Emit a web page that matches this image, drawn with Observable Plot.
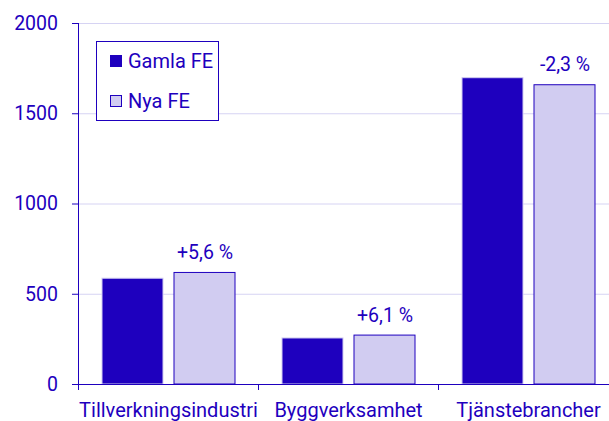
<!DOCTYPE html>
<html>
<head>
<meta charset="utf-8">
<script src="https://cdn.jsdelivr.net/npm/d3@7"></script>
<script src="https://cdn.jsdelivr.net/npm/@observablehq/plot@0.6"></script>
<style>
  html, body { margin: 0; padding: 0; background: white; }
  #wrap { position: relative; width: 609px; height: 421px; font-family: Roboto, sans-serif; color: #1E00BE; }
  #legend { position: absolute; left: 96px; top: 41px; width: 123px; height: 80px; box-sizing: border-box;
            border: 1px solid #1E00BE; background: white; }
  .item { position: absolute; left: 13px; height: 20px; display: flex; align-items: center; font-size: 20px; }
  .sw { width: 12px; height: 12px; box-sizing: border-box; border: 1px solid #1E00BE; margin-right: 6px; }
</style>
</head>
<body>
<div id="wrap"></div>
<script>
const categories = ["Tillverkningsindustri", "Byggverksamhet", "Tjänstebrancher"];
const seriesNames = ["Gamla FE", "Nya FE"];
const gamlaValues = [586, 255, 1697];
const nyaValues = [618, 271, 1658];
const changeLabels = ["+5,6 %", "+6,1 %", "-2,3 %"];
const yTicks = [0, 500, 1000, 1500, 2000];

const DARK = "#1E00BE";
const LIGHT = "#D1CCF1";
const GRID = "#D6D3F3";

const data = categories.flatMap((c, i) => [
  {category: c, series: seriesNames[0], value: gamlaValues[i]},
  {category: c, series: seriesNames[1], value: nyaValues[i], label: changeLabels[i]}
]);
const labelData = data.filter(d => d.series === seriesNames[1]);

// Category-boundary ticks below the x axis, plus the y-axis line in the first panel
const edgeTicks = Plot.ruleY(categories, {
  fx: d => d,
  y: () => 0,
  render: (index, scales, values, dims) => {
    const g = d3.create("svg:g").attr("stroke", DARK).attr("stroke-width", 1).attr("fill", "none");
    const x0 = dims.marginLeft + 0.5;
    const y0 = scales.y(0);
    const isFirst = Array.from(index).some(i => categories[i] === categories[0]);
    g.append("line")
      .attr("x1", x0).attr("x2", x0)
      .attr("y1", isFirst ? scales.y(yTicks[yTicks.length - 1]) : y0)
      .attr("y2", y0 + 6);
    return g.node();
  }
});

const chart = Plot.plot({
  width: 609,
  height: 421,
  marginLeft: 78,
  marginRight: -9,
  marginTop: 23,
  marginBottom: 37,
  style: {fontFamily: "Roboto, sans-serif", fontSize: "20px", color: DARK, background: "white", overflow: "hidden"},
  fx: {domain: categories, padding: 0, label: null},
  x: {domain: seriesNames, paddingInner: 0.158, paddingOuter: 0.314, axis: null},
  y: {domain: [0, 2000], label: null},
  color: {domain: seriesNames, range: [DARK, LIGHT]},
  marks: [
    Plot.gridY(yTicks, {stroke: GRID, strokeOpacity: 1}),
    Plot.axisY(yTicks, {tickSize: 6, tickPadding: 14.5, label: null, fontSize: 19.5, tickFormat: d3.format("d"), stroke: DARK}),
    Plot.axisFx({anchor: "bottom", tickSize: 0, tickPadding: 18, label: null, fontSize: 20}),
    Plot.barY(data, {
      fx: "category", x: "series", y: "value", fill: "series",
      stroke: d => d.series === seriesNames[0] ? LIGHT : DARK, strokeWidth: 1
    }),
    Plot.ruleY([0], {stroke: DARK}),
    Plot.text(labelData, {fx: "category", x: "series", y: "value", text: "label", dy: -20, fontSize: 19.5, fill: DARK}),
    edgeTicks
  ]
});

const wrap = document.getElementById("wrap");
wrap.appendChild(chart);
const legend = document.createElement("div");
legend.id = "legend";
seriesNames.forEach((s, i) => {
  const item = document.createElement("div");
  item.className = "item";
  item.style.top = (i === 0 ? 9 : 49) + "px";
  const sw = document.createElement("div");
  sw.className = "sw";
  sw.style.background = i === 0 ? DARK : LIGHT;
  const t = document.createElement("span");
  t.textContent = s;
  item.appendChild(sw);
  item.appendChild(t);
  legend.appendChild(item);
});
wrap.appendChild(legend);
</script>
</body>
</html>
